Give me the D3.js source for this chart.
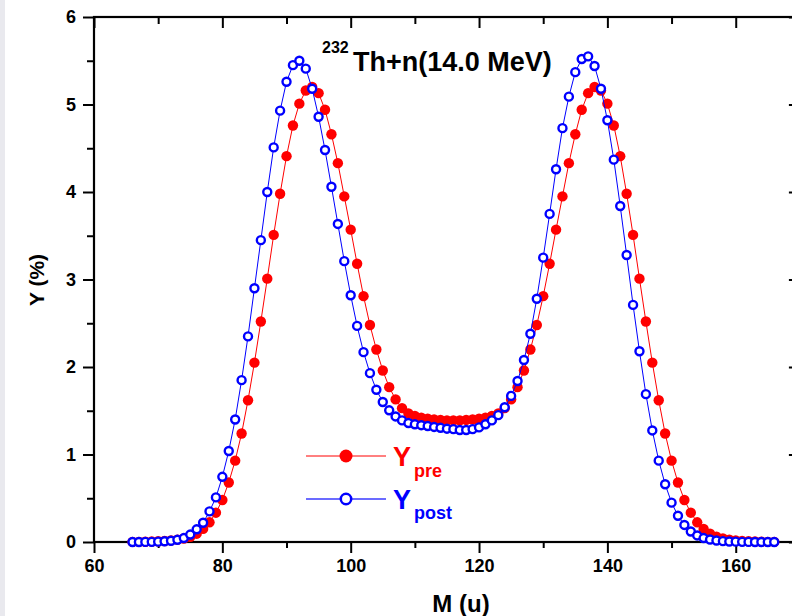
<!DOCTYPE html>
<html><head><meta charset="utf-8">
<script src="https://cdn.jsdelivr.net/npm/d3@7"></script>
<style>
body{margin:0;background:#fff;}
svg{display:block;}
text{font-family:Arial,"Liberation Sans",sans-serif;}
</style>
</head><body><svg id="c" width="792" height="616"></svg>
<script>
// Data
const massNumbers = [66,67,68,69,70,71,72,73,74,75,76,77,78,79,80,81,82,83,84,85,86,87,88,89,90,
  91,92,93,94,95,96,97,98,99,100,101,102,103,104,105,106,107,108,109,110,111,112,113,114,115,116,
  117,118,119,120,121,122,123,124,125,126,127,128,129,130,131,132,133,134,135,136,137,138,139,140,
  141,142,143,144,145,146,147,148,149,150,151,152,153,154,155,156,157,158,159,160,161,162,163,164,165,166];
const yieldPre = [0.001,0.002,0.003,0.005,0.008,0.012,0.018,0.027,0.04,0.06,0.095,0.15,0.225,0.335,0.48,
  0.68,0.93,1.24,1.62,2.05,2.52,3.01,3.51,3.98,4.41,4.76,5.01,5.16,5.20,5.13,4.94,4.66,4.33,3.95,3.57,
  3.18,2.81,2.48,2.20,1.96,1.77,1.63,1.53,1.47,1.44,1.42,1.41,1.40,1.395,1.39,1.39,
  1.39,1.395,1.40,1.41,1.42,1.44,1.47,1.53,1.63,1.77,1.96,2.20,2.48,2.81,3.18,3.57,3.95,4.33,4.66,4.94,
  5.13,5.20,5.16,5.01,4.76,4.41,3.98,3.51,3.01,2.52,2.05,1.62,1.24,0.93,0.68,0.48,0.335,0.225,0.15,0.095,
  0.06,0.04,0.027,0.018,0.012,0.008,0.005,0.003,0.002,0.001];
const yieldPost = [0.0,0.0,0.001,0.002,0.004,0.008,0.014,0.025,0.045,0.085,0.145,0.22,0.35,0.51,0.745,
  1.04,1.40,1.85,2.35,2.90,3.45,4.00,4.51,4.93,5.26,5.45,5.50,5.41,5.18,4.86,4.48,4.06,3.635,3.21,2.82,
  2.47,2.17,1.93,1.74,1.60,1.505,1.435,1.39,1.36,1.345,1.335,1.325,1.315,1.305,1.295,1.29,
  1.28,1.28,1.29,1.31,1.345,1.39,1.45,1.54,1.67,1.84,2.08,2.38,2.78,3.25,3.75,4.26,4.73,5.09,5.37,5.52,
  5.55,5.44,5.18,4.82,4.37,3.84,3.28,2.71,2.18,1.69,1.275,0.93,0.66,0.45,0.30,0.195,0.12,0.075,0.045,0.028,
  0.017,0.01,0.006,0.004,0.002,0.001,0,0,0,0];
const xMajorTicks = [60,80,100,120,140,160];
const xMinorTicks = [70,90,110,130,150,170];
const yMajorTicks = [0,1,2,3,4,5,6];
const yMinorTicks = [0.5,1.5,2.5,3.5,4.5,5.5];

const svg = d3.select('#c');
svg.append('rect').attr('x',0).attr('y',0).attr('width',792).attr('height',616).attr('fill','#fff');
svg.append('rect').attr('x',0).attr('y',0).attr('width',5).attr('height',616).attr('fill','#e9e9ee');

const x = d3.scaleLinear().domain([60,170]).range([94,799.9]);
const y = d3.scaleLinear().domain([0,6]).range([542,17]);
const X0 = x.range()[0], X1 = x.range()[1], Y0 = y.range()[0], Y1 = y.range()[1];

// axes
function styleAxis(g){ g.select('.domain').remove(); g.selectAll('line').attr('stroke','#000').attr('stroke-width',2); }
const fmt = d3.format('d');
// bottom
svg.append('g').attr('transform',`translate(0,${Y0})`)
  .call(d3.axisBottom(x).tickValues(xMajorTicks).tickSize(11).tickPadding(6).tickFormat(fmt))
  .call(styleAxis)
  .call(g=>g.selectAll('text').attr('font-size',18).attr('font-weight','bold').attr('fill','#000').attr('font-family','Arial,"Liberation Sans",sans-serif'));
svg.append('g').attr('transform',`translate(0,${Y0})`)
  .call(d3.axisBottom(x).tickValues(xMinorTicks).tickSize(6).tickFormat(''))
  .call(styleAxis);
// top
svg.append('g').attr('transform',`translate(0,${Y1})`)
  .call(d3.axisBottom(x).tickValues(xMajorTicks).tickSize(11).tickFormat(''))
  .call(styleAxis);
svg.append('g').attr('transform',`translate(0,${Y1})`)
  .call(d3.axisBottom(x).tickValues(xMinorTicks).tickSize(7).tickFormat(''))
  .call(styleAxis);
// left
svg.append('g').attr('transform',`translate(${X0},0)`)
  .call(d3.axisLeft(y).tickValues(yMajorTicks).tickSize(11).tickPadding(7).tickFormat(fmt))
  .call(styleAxis)
  .call(g=>g.selectAll('text').attr('font-size',18).attr('font-weight','bold').attr('fill','#000').attr('font-family','Arial,"Liberation Sans",sans-serif'));
svg.append('g').attr('transform',`translate(${X0},0)`)
  .call(d3.axisLeft(y).tickValues(yMinorTicks).tickSize(7).tickFormat(''))
  .call(styleAxis);
// right
svg.append('g').attr('transform',`translate(${X1},0)`)
  .call(d3.axisLeft(y).tickValues(yMajorTicks).tickSize(11).tickFormat(''))
  .call(styleAxis);
svg.append('g').attr('transform',`translate(${X1},0)`)
  .call(d3.axisLeft(y).tickValues(yMinorTicks).tickSize(7).tickFormat(''))
  .call(styleAxis);
// frame
svg.append('rect').attr('x',X0).attr('y',Y1).attr('width',X1-X0).attr('height',Y0-Y1)
  .attr('fill','none').attr('stroke','#000').attr('stroke-width',2.2);

// axis titles
svg.append('text').attr('x',461).attr('y',612).attr('text-anchor','middle')
  .attr('font-size',24).attr('font-weight','bold').text('M (u)');
svg.append('text').attr('transform','translate(44,280) rotate(-90)').attr('text-anchor','middle')
  .attr('font-size',21).attr('font-weight','bold').text('Y (%)');

// title
const t = svg.append('text').attr('font-weight','bold');
t.append('tspan').attr('x',322).attr('y',53).attr('font-size',16).text('232');
t.append('tspan').attr('x',353).attr('y',71).attr('font-size',27).text('Th+n(14.0 MeV)');

// series
const preData = massNumbers.map((m,i)=>({m, v: yieldPre[i]}));
const postData = massNumbers.map((m,i)=>({m, v: yieldPost[i]}));
const line = d3.line().x(d=>x(d.m)).y(d=>y(d.v));

svg.append('path').datum(preData).attr('d',line).attr('fill','none').attr('stroke','#ff0000').attr('stroke-width',1);
svg.append('g').selectAll('circle').data(preData).join('circle')
  .attr('cx',d=>x(d.m)).attr('cy',d=>y(d.v)).attr('r',5.2).attr('fill','#ff0000');
svg.append('path').datum(postData).attr('d',line).attr('fill','none').attr('stroke','#0000ff').attr('stroke-width',1);
svg.append('g').selectAll('circle').data(postData).join('circle')
  .attr('cx',d=>x(d.m)).attr('cy',d=>y(d.v)).attr('r',4).attr('fill','#fff')
  .attr('stroke','#0000ff').attr('stroke-width',2.4);

// legend
const lg = svg.append('g');
lg.append('line').attr('x1',306).attr('x2',386).attr('y1',456).attr('y2',456).attr('stroke','#ff0000').attr('stroke-width',1);
lg.append('circle').attr('cx',346).attr('cy',456).attr('r',6.5).attr('fill','#ff0000');
lg.append('line').attr('x1',306).attr('x2',386).attr('y1',499).attr('y2',499).attr('stroke','#3a3aff').attr('stroke-width',1.3);
lg.append('circle').attr('cx',346).attr('cy',499).attr('r',5.2).attr('fill','#fff').attr('stroke','#0000ff').attr('stroke-width',2.5);
const l1 = lg.append('text').attr('fill','#ff0000').attr('font-weight','bold');
l1.append('tspan').attr('x',393).attr('y',466).attr('font-size',27).text('Y');
l1.append('tspan').attr('x',414).attr('y',477).attr('font-size',18).text('pre');
const l2 = lg.append('text').attr('fill','#0000ff').attr('font-weight','bold');
l2.append('tspan').attr('x',393).attr('y',509).attr('font-size',27).text('Y');
l2.append('tspan').attr('x',414).attr('y',519).attr('font-size',18).text('post');
</script>
</body></html>
